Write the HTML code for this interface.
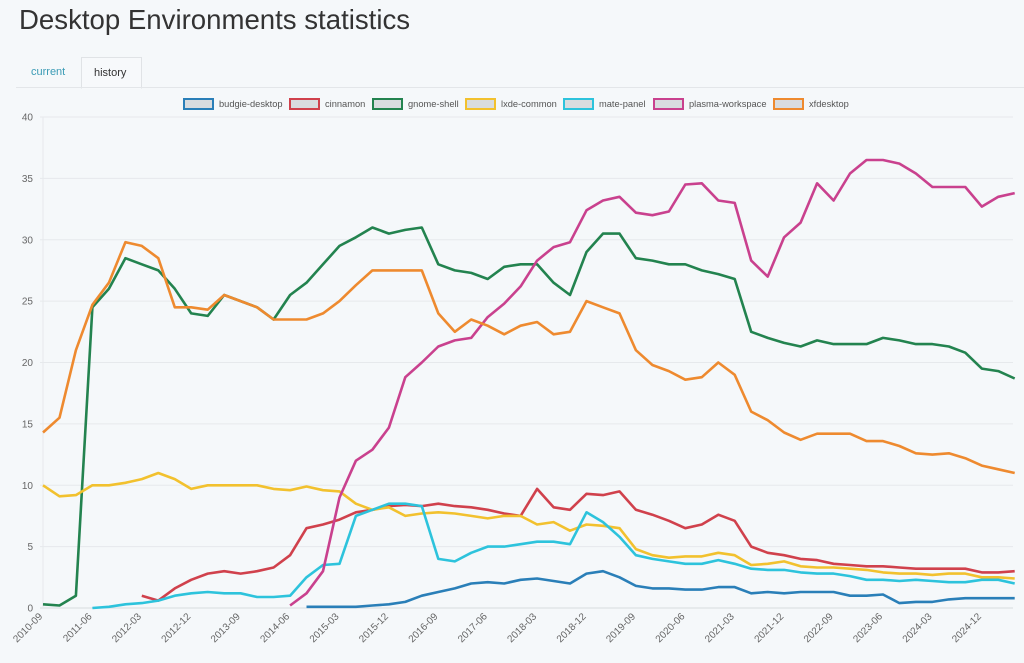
<!DOCTYPE html>
<html><head><meta charset="utf-8">
<style>
body{margin:0;width:1024px;height:663px;background:#f5f8fa;font-family:"Liberation Sans",sans-serif;overflow:hidden;position:relative}
h1{position:absolute;left:19px;top:4px;margin:0;font-weight:normal;font-size:27.6px;color:#333}
.tabline{position:absolute;left:16px;top:87px;width:1008px;height:1px;background:#e3e6e9}
.tab{position:absolute;top:57px;height:30px;line-height:30px;font-size:11px;padding:0 12px}
#tab-current{left:19px;color:#3a9bb5}
#tab-history{left:81px;width:35px;color:#333;border:1px solid #e0e3e6;border-bottom:1px solid #f7f9fb;background:#f7f9fb}
.leg{position:absolute;top:98px;font-size:9.3px;color:#555;height:12px;line-height:12px;white-space:nowrap}
.leg span{display:inline-block;width:27px;height:8px;border:2px solid;background:#d9dcdf;vertical-align:top;margin-right:5px}
svg{position:absolute;left:0;top:0}
</style></head>
<body>
<h1>Desktop Environments statistics</h1>
<div class="tab" id="tab-current">current</div>
<div class="tab" id="tab-history">history</div>
<div class="tabline"></div>
<div id="legend"></div>
<svg id="chart" width="1024" height="663"></svg>
<script>
const N=null;
const seriesNames=["budgie-desktop","cinnamon","gnome-shell","lxde-common","mate-panel","plasma-workspace","xfdesktop"];
const seriesColors=["#2a7fb8","#d0414c","#23834f","#f2c12e","#2dc3dc","#c9418e","#ee8a2f"];
const legendX=[183,289,372,465,563,653,773];
const yTicks=[0,5,10,15,20,25,30,35,40];
const xTickLabels=["2010-09","2011-06","2012-03","2012-12","2013-09","2014-06","2015-03","2015-12","2016-09","2017-06","2018-03","2018-12","2019-09","2020-06","2021-03","2021-12","2022-09","2023-06","2024-03","2024-12"];
const monthIdx=[];for(let m=0;m<=177;m+=3)monthIdx.push(m);
const budgie=[N,N,N,N,N,N,N,N,N,N,N,N,N,N,N,N,0.1,0.1,0.1,0.1,0.2,0.3,0.5,1.0,1.3,1.6,2.0,2.1,2.0,2.3,2.4,2.2,2.0,2.8,3.0,2.5,1.8,1.6,1.6,1.5,1.5,1.7,1.7,1.2,1.3,1.2,1.3,1.3,1.3,1.0,1.0,1.1,0.4,0.5,0.5,0.7,0.8,0.8,0.8,0.8];
const cinnamon=[N,N,N,N,N,N,1.0,0.6,1.6,2.3,2.8,3,2.8,3.0,3.3,4.3,6.5,6.8,7.2,7.8,8,8.3,8.4,8.3,8.5,8.3,8.2,8,7.7,7.5,9.7,8.2,8,9.3,9.2,9.5,8,7.6,7.1,6.5,6.8,7.6,7.1,5,4.5,4.3,4,3.9,3.6,3.5,3.4,3.4,3.3,3.2,3.2,3.2,3.2,2.9,2.9,3.0];
const gnome=[0.3,0.2,1,24.5,26,28.5,28,27.5,26,24,23.8,25.5,25,24.5,23.5,25.5,26.5,28,29.5,30.2,31,30.5,30.8,31,28,27.5,27.3,26.8,27.8,28,28,26.5,25.5,29,30.5,30.5,28.5,28.3,28,28,27.5,27.2,26.8,22.5,22,21.6,21.3,21.8,21.5,21.5,21.5,22,21.8,21.5,21.5,21.3,20.8,19.5,19.3,18.7];
const lxde=[10,9.1,9.2,10,10,10.2,10.5,11,10.5,9.7,10,10,10,10,9.7,9.6,9.9,9.6,9.5,8.5,8,8.2,7.5,7.7,7.8,7.7,7.5,7.3,7.5,7.5,6.8,7,6.3,6.8,6.7,6.5,4.8,4.3,4.1,4.2,4.2,4.5,4.3,3.5,3.6,3.8,3.4,3.3,3.3,3.2,3.1,2.9,2.8,2.8,2.7,2.8,2.8,2.5,2.5,2.4];
const mate=[N,N,N,0,0.1,0.3,0.4,0.6,1,1.2,1.3,1.2,1.2,0.9,0.9,1,2.5,3.5,3.6,7.5,8,8.5,8.5,8.3,4,3.8,4.5,5,5,5.2,5.4,5.4,5.2,7.8,7,5.8,4.3,4,3.8,3.6,3.6,3.9,3.6,3.2,3.1,3.1,2.9,2.8,2.8,2.6,2.3,2.3,2.2,2.3,2.2,2.1,2.1,2.3,2.3,2.0];
const plasma=[N,N,N,N,N,N,N,N,N,N,N,N,N,N,N,0.2,1.2,3,9,12,12.9,14.7,18.8,20,21.3,21.8,22,23.7,24.8,26.2,28.3,29.4,29.8,32.4,33.2,33.5,32.2,32,32.3,34.5,34.6,33.2,33,28.3,27,30.2,31.4,34.6,33.2,35.4,36.5,36.5,36.2,35.4,34.3,34.3,34.3,32.7,33.5,33.8];
const xfdesktop=[14.3,15.5,21,24.7,26.5,29.8,29.5,28.5,24.5,24.5,24.3,25.5,25,24.5,23.5,23.5,23.5,24,25,26.3,27.5,27.5,27.5,27.5,24,22.5,23.5,23,22.3,23,23.3,22.3,22.5,25,24.5,24,21,19.8,19.3,18.6,18.8,20,19,16,15.3,14.3,13.7,14.2,14.2,14.2,13.6,13.6,13.2,12.6,12.5,12.6,12.2,11.6,11.3,11];
const allSeries=[budgie,cinnamon,gnome,lxde,mate,plasma,xfdesktop];

const X0=43,PXM=5.49,Y0=608,PXU=12.275,XEND=1013;
const xs=m=>X0+m*PXM;
const ys=v=>Y0-v*PXU;
const svg=document.getElementById('chart');
const NS="http://www.w3.org/2000/svg";
function mk(t,a){const e=document.createElementNS(NS,t);for(const k in a)e.setAttribute(k,a[k]);svg.appendChild(e);return e;}
yTicks.forEach(v=>{
  const g=mk('line',{x1:X0-3,x2:XEND,y1:ys(v),y2:ys(v),stroke:v===0?'#d8dbde':'#e6e9ec','stroke-width':1});
  
  
  const t=mk('text',{x:33,y:ys(v)+3.5,'text-anchor':'end','font-size':10,fill:'#666'});
  t.textContent=v;
  
  
});
const ax=mk('line',{x1:X0,x2:X0,y1:ys(40),y2:Y0,stroke:'#e6e9ec'});


xTickLabels.forEach((l,i)=>{
  const x=xs(i*9),y=Y0+9;
  const t=mk('text',{x:x,y:y,'text-anchor':'end','font-size':10,fill:'#666',transform:`rotate(-45 ${x} ${y})`});
  t.textContent=l;
  
  
});
allSeries.forEach((s,si)=>{
  let d='';
  s.forEach((v,i)=>{if(v===null)return;d+=(d?'L':'M')+xs(monthIdx[i]).toFixed(1)+','+ys(v).toFixed(1);});
  const p=mk('path',{d:d,fill:'none',stroke:seriesColors[si],'stroke-width':2.6,'stroke-linejoin':'round'});
  
  
});
const leg=document.getElementById('legend');
seriesNames.forEach((n,i)=>{
  const d=document.createElement('div');
  d.className='leg';d.style.left=legendX[i]+'px';
  d.innerHTML='<span style="border-color:'+seriesColors[i]+'"></span>'+n;
  
  
  leg.appendChild(d);
});
</script>
</body></html>
